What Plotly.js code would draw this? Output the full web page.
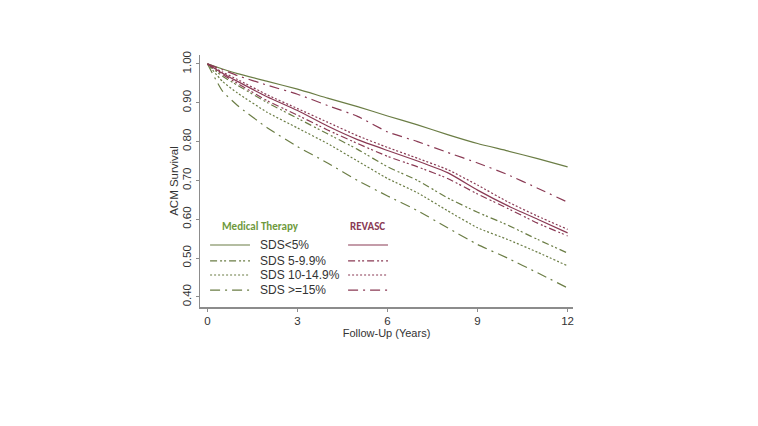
<!DOCTYPE html>
<html>
<head>
<meta charset="utf-8">
<script src="https://cdn.plot.ly/plotly-3.0.1.min.js"></script>
<style>html,body{margin:0;padding:0;background:#fff;}#chart{width:758px;height:426px;}</style>
</head>
<body>
<div id="chart"></div>
<script>
// Follow-up years
const years = [0, 0.5, 1, 2, 3, 4, 5, 6, 7, 8, 9, 10, 11, 12];

// Medical Therapy survival
const medSds5      = [1.000, 0.987, 0.975, 0.955, 0.935, 0.912, 0.890, 0.866, 0.843, 0.818, 0.795, 0.776, 0.756, 0.735];
const medSds5_99   = [1.000, 0.968, 0.945, 0.900, 0.860, 0.820, 0.780, 0.735, 0.700, 0.655, 0.618, 0.585, 0.548, 0.513];
const medSds10_149 = [1.000, 0.955, 0.925, 0.875, 0.835, 0.795, 0.750, 0.705, 0.668, 0.622, 0.578, 0.548, 0.515, 0.480];
const medSds15     = [1.000, 0.930, 0.893, 0.835, 0.787, 0.745, 0.700, 0.660, 0.622, 0.578, 0.535, 0.500, 0.462, 0.423];

// REVASC survival
const revSds5      = [1.000, 0.976, 0.955, 0.915, 0.880, 0.840, 0.805, 0.777, 0.750, 0.720, 0.675, 0.635, 0.600, 0.565];
const revSds5_99   = [1.000, 0.973, 0.950, 0.905, 0.868, 0.830, 0.795, 0.762, 0.735, 0.705, 0.665, 0.628, 0.590, 0.557];
const revSds10_149 = [1.000, 0.979, 0.960, 0.920, 0.885, 0.850, 0.815, 0.785, 0.757, 0.728, 0.688, 0.645, 0.608, 0.574];
const revSds15     = [1.000, 0.985, 0.970, 0.945, 0.922, 0.893, 0.865, 0.825, 0.800, 0.772, 0.745, 0.715, 0.680, 0.644];

const seriesLabels = ['SDS<5%', 'SDS 5-9.9%', 'SDS 10-14.9%', 'SDS >=15%'];
const xTicks = [0, 3, 6, 9, 12];
const yTicks = [0.40, 0.50, 0.60, 0.70, 0.80, 0.90, 1.00];
const yTickText = ['0.40', '0.50', '0.60', '0.70', '0.80', '0.90', '1.00'];

const GREEN = '#6b7d45';
const MAROON = '#8a3a54';
const dashes = ['solid', '7px,3px,2px,2px,2px,3px', '2px,2px', '10px,5px,2px,5px'];

const medSeries = [medSds5, medSds5_99, medSds10_149, medSds15];
const revSeries = [revSds5, revSds5_99, revSds10_149, revSds15];

const traces = [];
medSeries.forEach((ys, i) => traces.push({
  x: years, y: ys, type: 'scatter', mode: 'lines', name: 'Medical ' + seriesLabels[i],
  line: {color: GREEN, width: 1.2, dash: dashes[i], shape: 'spline', smoothing: 0.5}, showlegend: false, hoverinfo: 'skip'
}));
revSeries.forEach((ys, i) => traces.push({
  x: years, y: ys, type: 'scatter', mode: 'lines', name: 'REVASC ' + seriesLabels[i],
  line: {color: MAROON, width: 1.2, dash: dashes[i], shape: 'spline', smoothing: 0.5}, showlegend: false, hoverinfo: 'skip'
}));

// legend (drawn in paper coordinates)
const rowY = [0.246, 0.183, 0.127, 0.067];
const shapes = [];
const annotations = [];
rowY.forEach((yy, i) => {
  shapes.push({type: 'line', xref: 'paper', yref: 'paper', x0: 0.027, x1: 0.134, y0: yy, y1: yy,
    line: {color: GREEN, width: 1.2, dash: dashes[i]}});
  shapes.push({type: 'line', xref: 'paper', yref: 'paper', x0: 0.397, x1: 0.504, y0: yy, y1: yy,
    line: {color: MAROON, width: 1.2, dash: dashes[i]}});
  annotations.push({xref: 'paper', yref: 'paper', x: 0.156, y: yy, xanchor: 'left', yanchor: 'middle',
    text: seriesLabels[i], showarrow: false, font: {family: 'Liberation Sans, Arial, sans-serif', size: 12, color: '#333'}});
});
annotations.push({xref: 'paper', yref: 'paper', x: 0.161, y: 0.318, xanchor: 'center', yanchor: 'middle',
  text: '<b>Medical Therapy</b>', showarrow: false, font: {family: 'Carlito, Lato, sans-serif', size: 11, color: '#6f9a3e'}});
annotations.push({xref: 'paper', yref: 'paper', x: 0.449, y: 0.318, xanchor: 'center', yanchor: 'middle',
  text: '<b>REVASC</b>', showarrow: false, font: {family: 'Carlito, Lato, sans-serif', size: 11, color: '#8a3a54'}});

const layout = {
  width: 758, height: 426,
  margin: {l: 200, r: 185, t: 55, b: 119, pad: 0},
  paper_bgcolor: '#fff', plot_bgcolor: '#fff',
  font: {family: 'Liberation Sans, Arial, sans-serif', size: 11, color: '#333'},
  xaxis: {
    range: [-0.25, 12.18], tickvals: xTicks, ticktext: xTicks.map(String),
    showgrid: false, zeroline: false, showline: true, linecolor: '#8c8c8c', linewidth: 1.5,
    ticks: 'outside', ticklen: 3, tickcolor: '#8c8c8c', tickwidth: 1,
    tickfont: {size: 11.5, color: '#333'},
    title: {text: 'Follow-Up (Years)', font: {size: 11, color: '#333'}, standoff: 0}
  },
  yaxis: {
    range: [0.374, 1.023], tickvals: yTicks, ticktext: yTickText, tickangle: -90,
    showgrid: false, zeroline: false, showline: true, linecolor: '#8c8c8c', linewidth: 1.5,
    ticks: 'outside', ticklen: 3, tickcolor: '#8c8c8c', tickwidth: 1,
    tickfont: {size: 11.5, color: '#333'},
    title: {text: 'ACM Survival', font: {size: 11.5, color: '#333'}, standoff: 0}
  },
  shapes: shapes,
  annotations: annotations,
  showlegend: false
};

Plotly.newPlot('chart', traces, layout, {displayModeBar: false, staticPlot: true});
</script>
</body>
</html>
